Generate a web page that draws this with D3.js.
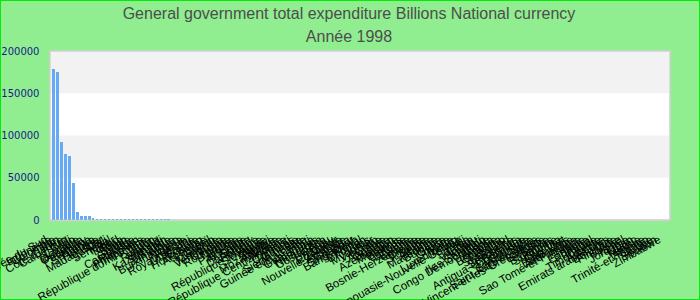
<!DOCTYPE html>
<html><head><meta charset="utf-8">
<script src="https://cdn.jsdelivr.net/npm/d3@7"></script>
<style>html,body{margin:0;padding:0;background:#90ee90;}svg{display:block;}</style>
</head><body>
<svg id="chart" width="700" height="300"></svg>
<script>
const titleText = "General government total expenditure Billions National currency";
const subtitleText = "Année 1998";
const countries = ["Corée du Sud","Indonésie","Colombie","Iran","Côte d'Ivoire","Cameroun","Chili","Congo","Tanzanie","Ouganda",
"Paraguay","Kenya","Sri Lanka","Hongrie","Madagascar","Mali","Sénégal","Niger","Tchad","Togo",
"Bénin","Guinée","Cambodge","Pakistan","Philippines","République dominicaine","Inde","Japon","Rwanda","Burundi",
"Kazakhstan","Islande","Jamaïque","Burkina Faso","Nigeria","Russie","Royaume-Uni","Thaïlande","Egypte","Hong Kong",
"Argentine","Brésil","Gabon","Mongolie","Venezuela","Ukraine","Roumanie","Turquie","Bolivie","Pays-Bas",
"Norvège","Suède","Danemark","Pologne","République tchèque","Slovaquie","Malawi","Zambie","Mozambique","Malaisie",
"République Centrafricaine","Djibouti","Comores","Gambie","Sierra Leone","Guinée équatoriale","Haïti","Guatemala","Honduras","Nicaragua",
"Costa Rica","Pérou","Uruguay","Equateur","Nouvelle-Zélande","Australie","Canada","Singapour","Bangladesh","Népal",
"Bhoutan","Laos","Myanmar","Vietnam","Chine","Arménie","Géorgie","Azerbaïdjan","Moldavie","Bélarus",
"Lettonie","Lituanie","Estonie","Bosnie-Herzégovine","Croatie","Slovénie","Serbie","Albanie","Macédoine","Bulgarie",
"Grèce","Chypre","Malte","Luxembourg","Papouasie-Nouvelle-Guinée","Fidji","Samoa","Tonga","Vanuatu","Kiribati",
"Iles Salomon","Congo Démocratique","Angola","Namibie","Botswana","Lesotho","Swaziland","Maurice","Seychelles","Antigua-et-Barbuda",
"Dominique","Grenade","Sainte-Lucie","Saint-Kitts-et-Nevis","Saint-Vincent-et-les-Grenadines","Barbade","Belize","Bahamas","Suriname","Guyana",
"Cap-Vert","Etats-Unis","Allemagne","Sao Tomé-et-Principe","France","Italie","Espagne","Portugal","Irlande","Timor-Leste",
"Autriche","Emirats arabes unis","Belgique","Finlande","Suisse","Israël","Jordanie","Liban","Maroc","Tunisie",
"Algérie","Trinité-et-Tobago","Libye","Soudan","Zimbabwe"];
const expenditure = [178200,174600,92700,78400,76000,44000,9500,4800,4700,4700,
2300,1100,1000,980,950,900,880,860,840,820,
800,780,760,740,720,700,690,680,660,640,
58,55,52,50,47,45,43,41,39,37,
35,33,31,29,27,25,24,23,22,21,
20,19,18,17,16,15,14.5,14,13.5,13,
12.5,12,11.5,11,10.5,10,9.6,9.2,8.8,8.4,
8,7.7,7.4,7.1,6.8,6.5,6.2,5.9,5.6,5.3,
5,4.8,4.6,4.4,4.2,4,3.8,3.6,3.4,3.2,
3,2.9,2.8,2.7,2.6,2.5,2.4,2.3,2.2,2.1,
2,1.9,1.8,1.7,1.6,1.5,1.4,1.3,1.2,1.1,
1,0.95,0.9,0.85,0.8,0.75,0.7,0.65,0.6,0.55,
0.5,0.47,0.44,0.41,0.38,0.35,0.32,0.3,0.28,0.26,
0.24,0.22,0.2,0.19,0.18,0.17,0.16,0.15,0.14,0.13,
0.12,0.11,0.1,0.09,0.08,0.07,0.06,0.05,0.04,0.03,
0.025,0.02,0.015,0.01,0.005];
const yTicks = [0,50000,100000,150000,200000];

const svg = d3.select("#chart");
const W = 700, H = 300;
const plot = {left:50, right:670, top:51, bottom:220};

svg.append("rect").attr("x",0.5).attr("y",0.5).attr("width",W-1).attr("height",H-1)
  .attr("fill","#90ee90").attr("stroke","#00ee00").attr("stroke-width",1);

const x = d3.scaleBand().domain(countries).range([plot.left, plot.right]).paddingInner(0.33).paddingOuter(0.5);
const y = d3.scaleLinear().domain([0,200000]).range([plot.bottom, plot.top]);

// plot background + bands
svg.append("rect").attr("x",plot.left).attr("y",plot.top).attr("width",plot.right-plot.left)
  .attr("height",plot.bottom-plot.top).attr("fill","#ffffff").attr("stroke","#d0d0d0").attr("stroke-width",1.5);
const bands = d3.pairs(yTicks).filter((p,i)=> i%2===1);
svg.append("g").selectAll("rect").data(bands).join("rect")
  .attr("x",plot.left+1).attr("width",plot.right-plot.left-2)
  .attr("y",d=>y(d[1])+ (d[1]===200000?1:0)).attr("height",d=>y(d[0])-y(d[1]) - (d[1]===200000?1:0))
  .attr("fill","#f2f2f2");

// bars
svg.append("g").attr("shape-rendering","crispEdges").selectAll("rect").data(countries).join("rect")
  .attr("x",(d)=>x(d)).attr("width",x.bandwidth())
  .attr("y",(d,i)=>y(expenditure[i])).attr("height",(d,i)=>plot.bottom - y(expenditure[i]))
  .attr("fill","#64aaf5");

// bottom axis line
svg.append("line").attr("x1",plot.left).attr("x2",plot.right).attr("y1",plot.bottom+0.5).attr("y2",plot.bottom+0.5)
  .attr("stroke","#d0d0d0").attr("stroke-width",1.5);

// y axis
const yAxis = d3.axisLeft(y).tickValues(yTicks).tickFormat(d3.format("d")).tickSize(0).tickPadding(0);
const gy = svg.append("g").attr("transform","translate(39.5,0)").call(yAxis);
gy.select(".domain").remove();
gy.selectAll("text").attr("fill","#1a1a8c").attr("font-family","DejaVu Sans, sans-serif").attr("font-size","10px");

// x axis
const xAxis = d3.axisBottom(x).tickSize(0).tickPadding(0);
const gx = svg.append("g").attr("transform",`translate(0,${plot.bottom})`).call(xAxis);
gx.select(".domain").remove();
gx.selectAll("text")
  .attr("text-anchor","end").attr("dy",null).attr("y",null)
  .attr("transform","translate(-5,22) rotate(-29)")
  .attr("fill","#000").attr("font-family","Liberation Sans, Arial, sans-serif").attr("font-size","11.5px");

// titles
svg.append("text").attr("x",349).attr("y",19).attr("text-anchor","middle")
  .attr("font-family","Liberation Sans, Arial, sans-serif").attr("font-size","16px").attr("fill","#4d4d4d").text(titleText);
svg.append("text").attr("x",349).attr("y",42).attr("text-anchor","middle")
  .attr("font-family","Liberation Sans, Arial, sans-serif").attr("font-size","16px").attr("fill","#4d4d4d").text(subtitleText);
</script>
</body></html>
